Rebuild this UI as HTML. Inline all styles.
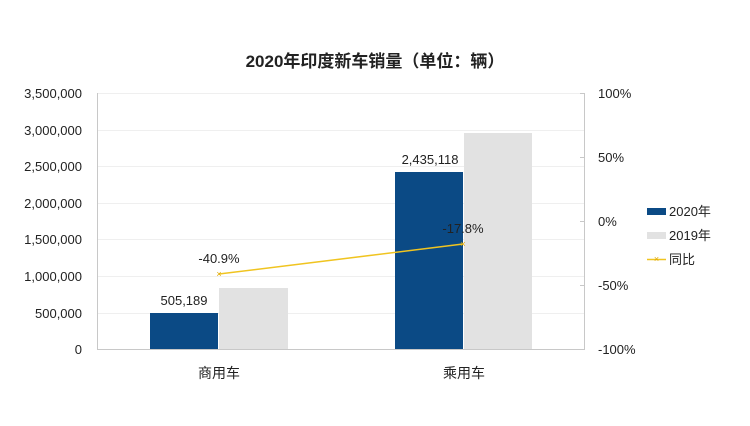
<!DOCTYPE html>
<html><head><meta charset="utf-8"><style>
body{margin:0;background:#fff;}
svg text{font-family:"Liberation Sans","Noto Sans CJK SC",sans-serif;fill:#222;}
</style></head><body>
<svg width="750" height="421" viewBox="0 0 750 421" xmlns="http://www.w3.org/2000/svg">
<text x="375" y="67" font-size="17" font-weight="bold" text-anchor="middle">2020年印度新车销量（单位：辆）</text>
<g stroke="#efefef" stroke-width="1">
<line x1="97" x2="585" y1="93.5" y2="93.5"/><line x1="97" x2="585" y1="130.5" y2="130.5"/>
<line x1="97" x2="585" y1="166.5" y2="166.5"/><line x1="97" x2="585" y1="203.5" y2="203.5"/>
<line x1="97" x2="585" y1="239.5" y2="239.5"/><line x1="97" x2="585" y1="276.5" y2="276.5"/>
<line x1="97" x2="585" y1="313.5" y2="313.5"/>
</g>
<rect x="150" y="313" width="68" height="36" fill="#0b4a85"/>
<rect x="219" y="288" width="69" height="61" fill="#e2e2e2"/>
<rect x="395" y="172" width="68" height="177" fill="#0b4a85"/>
<rect x="464" y="133" width="68" height="216" fill="#e2e2e2"/>
<line x1="97.5" y1="93" x2="97.5" y2="350" stroke="#c8c8c8"/>
<line x1="97" y1="349.5" x2="585" y2="349.5" stroke="#c8c8c8"/>
<line x1="584.5" y1="93" x2="584.5" y2="350" stroke="#c8c8c8"/>
<g stroke="#c8c8c8"><line x1="580" x2="585" y1="93.5" y2="93.5"/><line x1="580" x2="585" y1="157.5" y2="157.5"/><line x1="580" x2="585" y1="221.5" y2="221.5"/><line x1="580" x2="585" y1="285.5" y2="285.5"/><line x1="580" x2="585" y1="349.5" y2="349.5"/></g>
<g font-size="13" text-anchor="end">
<text x="82" y="98">3,500,000</text><text x="82" y="135">3,000,000</text><text x="82" y="171">2,500,000</text>
<text x="82" y="208">2,000,000</text><text x="82" y="244">1,500,000</text><text x="82" y="281">1,000,000</text>
<text x="82" y="318">500,000</text><text x="82" y="354">0</text>
</g>
<g font-size="13">
<text x="598" y="98">100%</text><text x="598" y="162">50%</text><text x="598" y="226">0%</text>
<text x="598" y="290">-50%</text><text x="598" y="354">-100%</text>
</g>
<polyline points="219,274 463,244" fill="none" stroke="#f0c420" stroke-width="1.5"/>
<text x="219" y="274" font-size="9" text-anchor="middle" dy="3" style="fill:#e0a800">×</text>
<text x="463" y="244" font-size="9" text-anchor="middle" dy="3" style="fill:#e0a800">×</text>
<g font-size="13" text-anchor="middle">
<text x="184" y="305">505,189</text><text x="430" y="164">2,435,118</text>
<text x="219" y="263">-40.9%</text><text x="463" y="233">-17.8%</text>
</g>
<g font-size="14" text-anchor="middle"><text x="219" y="378">商用车</text><text x="464" y="378">乘用车</text></g>
<rect x="647" y="208" width="19" height="7" fill="#0b4a85"/><text x="669" y="216" font-size="13">2020年</text>
<rect x="647" y="232" width="19" height="7" fill="#e2e2e2"/><text x="669" y="240" font-size="13">2019年</text>
<line x1="647" y1="259.5" x2="666" y2="259.5" stroke="#f0c420" stroke-width="1.5"/>
<text x="656.5" y="262" font-size="9" text-anchor="middle" style="fill:#e0a800">×</text>
<text x="669" y="264" font-size="13">同比</text>
</svg>
</body></html>
